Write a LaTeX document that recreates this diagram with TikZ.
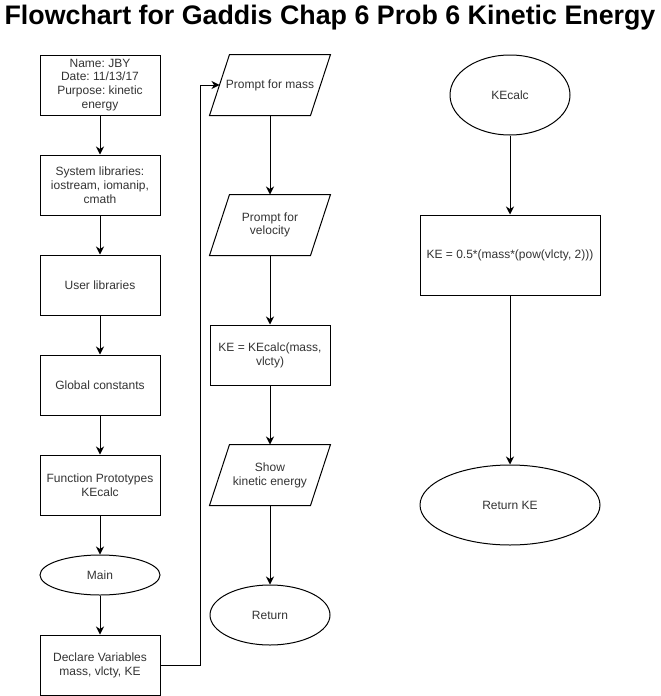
\documentclass[tikz,border=0pt]{standalone}
\usepackage{fontspec}
\setmainfont{Liberation Sans}
\frenchspacing
\usepackage{tikz}
\usetikzlibrary{shapes.geometric, arrows.meta, positioning}
\definecolor{txtgray}{RGB}{51,51,51}
\tikzstyle{->}   = [draw, line width=1pt, -{Stealth[length=8pt, width=8pt, inset=2.5pt]}]
\tikzstyle{-}    = [draw, line width=1pt]
\tikzstyle{box}  = [draw, line width=1pt, rectangle, minimum width=120pt, minimum height=60pt, inner sep=0pt, align=center, text=txtgray, font=\fontsize{12}{13.8}\selectfont]
\tikzstyle{io}   = [box, draw=none]
\tikzstyle{oval} = [draw, line width=1pt, ellipse, minimum width=120pt, minimum height=40pt, inner sep=0pt, align=center, text=txtgray, font=\fontsize{12}{13.8}\selectfont]

\begin{document}
\begin{tikzpicture}[x=1pt, y=-1pt]

\useasboundingbox (0,0) rectangle (661,696);

% title
\node [font=\fontsize{26.8}{30}\selectfont\bfseries] at ( 330, 18 ) (title) {Flowchart for Gaddis Chap 6 Prob 6 Kinetic Energy};

% nodes
\node [box]                                   at ( 100,  85 ) (name)    {Name: JBY\\Date: 11/13/17\\Purpose: kinetic\\energy};
\node [box]                                   at ( 100, 185 ) (syslib)  {System libraries:\\iostream, iomanip,\\cmath};
\node [box]                                   at ( 100, 285 ) (userlib) {User libraries};
\node [box]                                   at ( 100, 385 ) (glob)    {Global constants};
\node [box]                                   at ( 100, 485 ) (proto)   {Function Prototypes\\KEcalc};
\node [oval]                                  at ( 100, 575 ) (main)    {Main};
\node [box]                                   at ( 100, 665 ) (decl)    {Declare Variables\\mass, vlcty, KE};

\node [io]                                    at ( 270,  85 ) (pmass)   {Prompt for mass};
\node [io]                                    at ( 270, 225 ) (pvel)    {Prompt for\\velocity};
\node [box]                                   at ( 270, 355 ) (call)    {KE = KEcalc(mass,\\vlcty)};
\node [io]                                    at ( 270, 475 ) (show)    {Show\\kinetic energy};
\node [oval, minimum height=60pt]              at ( 270, 615 ) (ret)     {Return};

\node [oval, minimum height=80pt]              at ( 510,  95 ) (kecalc)  {KEcalc};
\node [box, minimum width=180pt, minimum height=80pt] at ( 510, 255 ) (keform) {KE = 0.5*(mass*(pow(vlcty, 2)))};
\node [oval, minimum width=180pt, minimum height=80pt] at ( 510, 505 ) (retke) {Return KE};

% parallelogram outlines of the input/output nodes
\foreach \n in {pmass, pvel, show}
  \draw [line width=1pt] (\n.south west) -- ([xshift=20pt]\n.north west) -- (\n.north east) -- ([xshift=-20pt]\n.south east) -- cycle;

\coordinate (bend) at ( 200, 85 );

% edges
\path [->]
  (name)    edge (syslib)
  (syslib)  edge (userlib)
  (userlib) edge (glob)
  (glob)    edge (proto)
  (proto)   edge (main)
  (main)    edge (decl)

  (pmass)   edge (pvel)
  (pvel)    edge (call)
  (call)    edge (show)
  (show)    edge (ret)

  (kecalc)  edge (keform)
  (keform)  edge (retke);

\draw [->] (decl.east) -| (bend) -- ([xshift=10pt]pmass.west);

\end{tikzpicture}
\end{document}
